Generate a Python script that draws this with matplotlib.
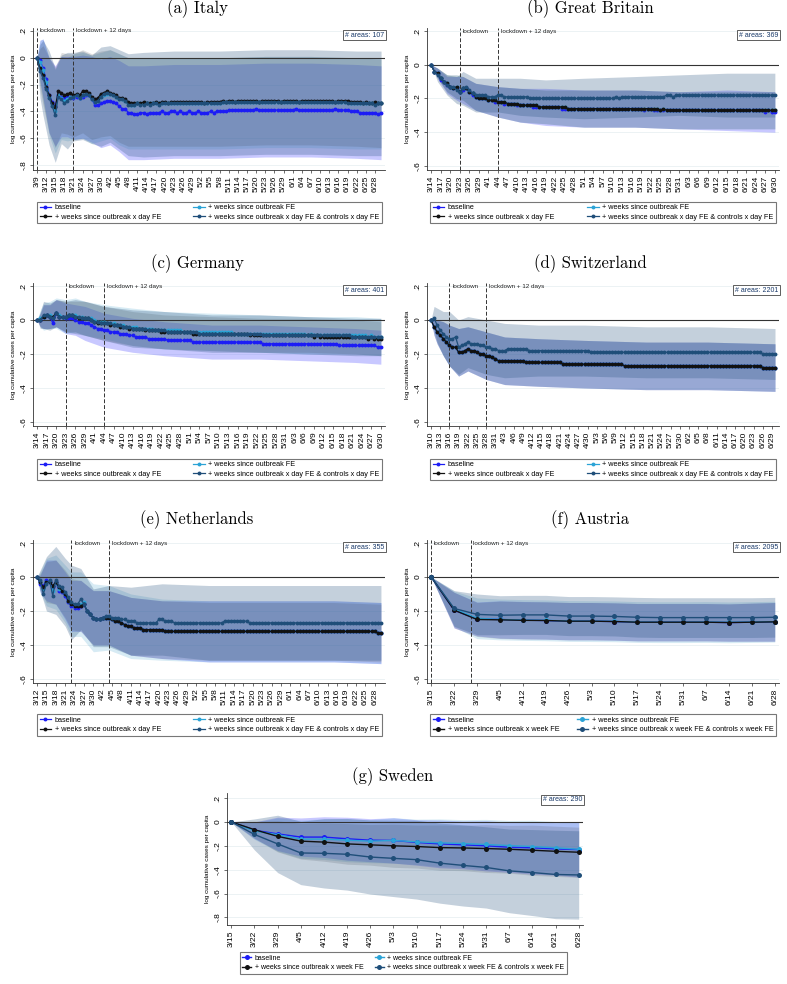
import numpy as np
import matplotlib
matplotlib.use("Agg")
import matplotlib.pyplot as plt
from matplotlib import font_manager

plt.rcParams["font.family"] = ["Liberation Sans", "DejaVu Sans"]

# ---------------------------------------------------------------- data
# daily / weekly point estimates in hundredths
# order of series everywhere: baseline, weeks FE, weeks x day FE, + controls

# (a) Italy, daily from 3/9
it_base = ("0 -2 -8 -16 -28 -33 -36 -28 -29 -30 "
           "-29 -29 -30 -29 -30 -29 -28 -28 -31 -35 "
           "-35 -34 -33 -32 -32 -33 -34 -36 -38 -38 "
           "-41 -41 -42 -42 -41 -41 -42 -41 -41 -41 "
           "-41 -40 -41 -41 -40 -40 -41 -40 -41 -41 "
           "-40 -41 -41 -40 -41 -41 -41 -40 -41 -40 "
           "-40 -40 -40 -39 -39 -39 -39 -39 -39 -39 "
           "-39 -39 -38 -39 -39 -39 -39 -39 -39 -39 "
           "-39 -39 -39 -39 -39 -38 -39 -39 -39 -39 "
           "-39 -39 -39 -39 -39 -39 -39 -39 -38 -39 "
           "-39 -39 -39 -40 -40 -40 -41 -41 -41 -41 "
           "-41 -41 -42 -41")
it_wfe = ("0 -3 -9 -18 -29 -35 -40 -28 -30 -32 "
          "-31 -29 -29 -28 -30 -28 -27 -28 -31 -33 "
          "-32 -29 -28 -27 -27 -28 -29 -31 -31 -32 "
          "-34 -35 -35 -34 -34 -34 -34 -34 -34 -34 "
          "-34 -34 -34 -34 -34 -34 -34 -34 -34 -34 "
          "-34 -34 -34 -34 -34 -34 -34 -34 -34 -34 "
          "-34 -33 -33 -33 -33 -33 -33 -33 -33 -33 "
          "-33 -33 -33 -33 -33 -33 -33 -33 -33 -33 "
          "-33 -33 -33 -33 -33 -33 -33 -33 -33 -33 "
          "-33 -33 -33 -33 -33 -33 -33 -33 -33 -33 "
          "-33 -33 -33 -34 -34 -34 -34 -34 -34 -34 "
          "-34 -34 -34 -34")
it_wxd = ("0 -8 -13 -22 -28 -34 -37 -25 -26 -28 "
          "-27 -26 -28 -27 -28 -25 -25 -26 -29 -31 "
          "-30 -27 -26 -25 -26 -27 -28 -30 -30 -31 "
          "-33 -34 -34 -34 -34 -33 -34 -34 -34 -33 "
          "-34 -33 -33 -34 -33 -33 -33 -33 -33 -33 "
          "-33 -33 -33 -33 -33 -34 -33 -33 -33 -33 "
          "-33 -32 -33 -32 -32 -33 -32 -32 -32 -32 "
          "-32 -32 -32 -33 -32 -32 -32 -32 -32 -32 "
          "-33 -32 -32 -32 -32 -32 -33 -32 -32 -32 "
          "-32 -32 -32 -32 -32 -32 -32 -32 -33 -32 "
          "-32 -32 -32 -33 -33 -33 -33 -34 -33 -34 "
          "-34 -33 -34 -34")
it_ctrl = ("0 -10 -15 -23 -30 -36 -43 -29 -31 -34 "
           "-32 -30 -29 -28 -30 -28 -27 -28 -31 -33 "
           "-32 -29 -27 -26 -27 -28 -29 -31 -31 -32 "
           "-35 -35 -35 -34 -35 -35 -34 -35 -34 -34 "
           "-35 -34 -34 -34 -34 -34 -34 -34 -34 -34 "
           "-34 -34 -34 -34 -34 -34 -34 -34 -34 -34 "
           "-34 -33 -33 -33 -33 -33 -33 -33 -33 -33 "
           "-33 -33 -33 -33 -33 -33 -33 -33 -33 -33 "
           "-33 -33 -33 -33 -33 -33 -33 -33 -33 -33 "
           "-33 -33 -33 -33 -33 -33 -33 -33 -33 -33 "
           "-33 -33 -34 -34 -34 -34 -34 -34 -34 -34 "
           "-34 -35 -34 -34")
it_days = "0 1 2 4 6 8 10 12 15 18 21 24 27 30 35 45 60 75 90 105 113"
it_hw_base = "0 15 22 28 30 30 30 31 31 32 33 33 34 35 35 35 35 35 35 35 35"
it_hw_wfe = "0 16 23 29 31 31 31 32 32 33 33 33 34 34 34 34 34 34 34 34 34"
it_hw_wxd = "0 15 22 28 30 30 30 31 31 32 32 32 33 33 33 33 33 33 33 33 33"
it_hw_ctrl = "0 20 28 35 35 33 36 33 33 33 37 36 37 38 39 39 39 39 39 39 39"

# (b) Great Britain, daily from 3/14
gb_base = ("0 -4 -5 -9 -10 -12 -13 -14 -14 -16 "
           "-15 -14 -16 -18 -19 -20 -20 -20 -21 -21 "
           "-22 -22 -22 -23 -23 -23 -23 -24 -24 -24 "
           "-24 -24 -25 -25 -25 -25 -25 -25 -25 -25 "
           "-25 -26 -26 -26 -26 -26 -26 -26 -26 -26 "
           "-26 -26 -26 -26 -26 -26 -26 -26 -26 -26 "
           "-26 -26 -26 -26 -26 -26 -26 -27 -26 -26 "
           "-27 -27 -27 -27 -27 -27 -27 -27 -27 -27 "
           "-27 -27 -27 -27 -27 -27 -27 -27 -27 -27 "
           "-27 -27 -27 -27 -27 -27 -27 -27 -27 -27 "
           "-27 -27 -27 -27 -27 -28 -27 -28 -28")
gb_wxd = ("0 -4 -5 -8 -10 -11 -13 -14 -13 -16 "
          "-14 -14 -16 -17 -19 -20 -20 -20 -21 -21 "
          "-21 -22 -22 -22 -23 -23 -23 -23 -24 -24 "
          "-24 -24 -24 -24 -25 -25 -25 -25 -25 -25 "
          "-25 -25 -25 -26 -26 -26 -26 -26 -26 -26 "
          "-26 -26 -26 -26 -26 -26 -26 -26 -26 -26 "
          "-26 -26 -26 -26 -26 -26 -26 -26 -26 -26 "
          "-26 -26 -27 -26 -27 -27 -27 -27 -27 -27 "
          "-27 -27 -27 -27 -27 -27 -27 -27 -27 -27 "
          "-27 -27 -27 -27 -27 -27 -27 -27 -27 -27 "
          "-27 -27 -27 -27 -27 -27 -27 -27 -27")
gb_wfe = gb_wxd  # drawn on top of each other in the figure
gb_ctrl = ("0 -4 -6 -8 -10 -12 -13 -13 -15 -16 "
           "-14 -13 -15 -17 -18 -18 -18 -18 -19 -19 "
           "-19 -18 -18 -19 -19 -19 -19 -19 -19 -19 "
           "-19 -20 -20 -20 -20 -20 -20 -20 -20 -20 "
           "-20 -20 -20 -20 -20 -20 -20 -20 -20 -20 "
           "-20 -20 -20 -20 -20 -20 -20 -20 -19 -20 "
           "-19 -19 -19 -19 -19 -19 -19 -19 -19 -19 "
           "-19 -19 -19 -19 -18 -18 -19 -18 -18 -18 "
           "-18 -18 -18 -18 -18 -18 -18 -18 -18 -18 "
           "-18 -18 -18 -18 -18 -18 -18 -18 -18 -18 "
           "-18 -18 -18 -18 -18 -18 -18 -18 -18")
gb_days = "0 2 5 8 10 14 21 28 36 48 64 78 93 108"
gb_hw_base = "0 3 5 7 8 8 9 10 11 11 11 11 12 12"
gb_hw_wfe = "0 3 5 7 7 8 9 10 10 11 11 11 11 11"
gb_hw_wxd = "0 3 5 7 7 8 9 10 10 11 11 11 11 11"
gb_hw_ctrl = "0 4 6 8 10 10 10 11 11 12 12 12 13 13"

# (c) Germany, daily from 3/14
de_base = ("0 0 2 3 2 -2 4 2 2 1 "
           "1 1 0 -1 -1 -2 -2 -3 -4 -5 "
           "-5 -6 -6 -7 -7 -7 -8 -8 -8 -9 "
           "-9 -10 -10 -10 -10 -11 -11 -11 -11 -11 "
           "-11 -12 -12 -12 -12 -12 -12 -12 -12 -13 "
           "-13 -13 -13 -13 -13 -13 -13 -13 -13 -13 "
           "-13 -13 -13 -13 -13 -13 -13 -13 -13 -13 "
           "-13 -14 -14 -14 -14 -14 -14 -14 -14 -14 "
           "-14 -14 -14 -14 -14 -14 -14 -14 -14 -14 "
           "-14 -14 -14 -14 -14 -15 -15 -15 -15 -15 "
           "-15 -15 -15 -15 -15 -15 -15 -16 -16")
de_wfe = ("0 1 2 3 3 2 4 3 2 2 "
          "3 3 3 2 2 1 1 1 0 -1 "
          "-1 -1 -2 -2 -2 -3 -3 -3 -4 -4 "
          "-4 -4 -5 -5 -5 -5 -5 -6 -6 -6 "
          "-6 -6 -6 -6 -6 -6 -7 -7 -7 -7 "
          "-7 -7 -7 -7 -7 -7 -7 -7 -7 -7 "
          "-7 -7 -8 -8 -8 -8 -8 -8 -8 -8 "
          "-8 -8 -8 -8 -8 -8 -8 -8 -8 -8 "
          "-8 -8 -8 -8 -8 -9 -8 -9 -9 -9 "
          "-9 -9 -9 -9 -9 -9 -9 -9 -9 -9 "
          "-9 -9 -9 -9 -10 -9 -10 -10 -10")
de_wxd = ("0 0 2 3 2 2 4 2 2 2 "
          "3 3 2 1 1 1 1 0 -1 -2 "
          "-2 -2 -2 -3 -3 -3 -4 -4 -4 -5 "
          "-5 -5 -5 -5 -6 -6 -6 -6 -6 -7 "
          "-7 -7 -7 -7 -7 -7 -7 -7 -7 -8 "
          "-8 -8 -8 -8 -8 -8 -8 -8 -8 -8 "
          "-8 -8 -8 -8 -8 -8 -8 -9 -9 -9 "
          "-9 -9 -9 -9 -9 -9 -9 -9 -9 -9 "
          "-9 -9 -9 -9 -9 -9 -9 -10 -9 -10 "
          "-10 -10 -10 -10 -10 -10 -10 -10 -10 -10 "
          "-10 -10 -10 -10 -11 -10 -11 -11 -11")
de_ctrl = ("0 0 3 3 2 1 4 2 2 2 "
           "3 3 2 2 1 1 1 0 -1 -1 "
           "-2 -2 -2 -2 -3 -3 -3 -4 -4 -4 "
           "-5 -5 -5 -5 -5 -6 -6 -6 -6 -6 "
           "-6 -7 -7 -7 -7 -7 -7 -7 -7 -7 "
           "-7 -8 -8 -8 -8 -8 -8 -8 -8 -8 "
           "-8 -8 -8 -8 -8 -8 -8 -8 -8 -8 "
           "-8 -9 -9 -9 -9 -9 -9 -9 -9 -9 "
           "-9 -9 -9 -9 -9 -9 -9 -9 -9 -9 "
           "-9 -9 -9 -9 -9 -9 -9 -9 -9 -10 "
           "-10 -10 -10 -10 -10 -10 -10 -10 -10")
de_days = "0 1 2 4 6 9 12 15 21 30 40 55 70 85 100 108"
de_hw_base = "0 4 7 7 8 9 9 10 10 10 10 10 10 10 10 10"
de_hw_wfe = "0 5 8 8 9 10 10 10 10 11 11 11 11 11 11 11"
de_hw_wxd = "0 4 7 7 8 9 9 10 10 10 10 10 10 10 10 10"
de_hw_ctrl = "0 5 8 8 8 9 10 10 10 11 11 11 11 11 11 11"

# (d) Switzerland, daily from 3/10
ch_wxd = ("0 -4 -7 -9 -11 -13 -15 -16 -16 -19 "
          "-19 -18 -17 -18 -18 -19 -20 -20 -21 -21 "
          "-22 -23 -24 -24 -24 -24 -24 -24 -24 -24 "
          "-24 -25 -25 -25 -25 -25 -25 -25 -25 -25 "
          "-25 -25 -25 -26 -26 -26 -26 -26 -26 -26 "
          "-26 -26 -26 -26 -26 -26 -26 -26 -26 -26 "
          "-26 -26 -26 -27 -27 -27 -27 -27 -27 -27 "
          "-27 -27 -27 -27 -27 -27 -27 -27 -27 -27 "
          "-27 -27 -27 -27 -27 -27 -27 -27 -27 -27 "
          "-27 -27 -27 -27 -27 -27 -27 -27 -27 -27 "
          "-27 -27 -27 -27 -27 -27 -27 -27 -28 -28 "
          "-28 -28 -28")
ch_base = ch_wxd  # hidden under the black series
ch_wfe = ch_wxd
ch_ctrl = ("0 1 -3 -6 -8 -10 -11 -11 -10 -16 "
           "-15 -14 -13 -14 -14 -14 -15 -15 -16 -16 "
           "-17 -17 -18 -18 -18 -17 -17 -17 -17 -17 "
           "-17 -17 -18 -18 -18 -18 -18 -18 -18 -18 "
           "-18 -18 -18 -18 -18 -18 -18 -18 -18 -18 "
           "-18 -18 -19 -19 -19 -19 -19 -19 -19 -19 "
           "-19 -19 -19 -19 -19 -19 -19 -19 -19 -19 "
           "-19 -19 -19 -19 -19 -19 -19 -19 -19 -19 "
           "-19 -19 -19 -19 -19 -19 -19 -19 -19 -19 "
           "-19 -19 -19 -19 -19 -19 -19 -19 -19 -19 "
           "-19 -19 -19 -19 -19 -19 -19 -19 -20 -20 "
           "-20 -20 -20")
ch_days = "0 1 2 4 6 9 12 18 24 35 50 70 90 112"
ch_hw_base = "0 5 7 10 12 14 13 14 14 14 14 14 14 14"
ch_hw_wfe = "0 5 7 10 12 14 13 14 14 14 14 14 14 14"
ch_hw_wxd = "0 5 7 10 12 14 13 14 14 14 14 14 14 14"
ch_hw_ctrl = "0 7 10 13 16 16 15 16 16 15 15 15 15 15"

# (e) Netherlands, daily from 3/12 (the three first series share the tail)
nl_tail = ("-25 -24 -24 -24 -25 -26 -26 -27 -28 -29 "
           "-29 -30 -30 -30 -31 -31 -31 -31 -31 -31 "
           "-31 -32 -32 -32 -32 -32 -32 -32 -32 -32 "
           "-32 -32 -32 -32 -32 -32 -32 -32 -32 -32 "
           "-32 -32 -32 -32 -32 -32 -32 -32 -32 -32 "
           "-32 -32 -32 -32 -32 -32 -32 -32 -32 -32 "
           "-32 -32 -32 -32 -32 -32 -32 -32 -32 -32 "
           "-32 -32 -32 -32 -32 -32 -32 -32 -32 -32 "
           "-32 -32 -32 -32 -32 -32 -32 -32 -32 -33 "
           "-33")
nl_base = ("0 -4 -5 -2 -3 -6 -3 -8 -9 -11 "
           "-15 -17 -18 -18 -17 -16 -20 -22 -24 -25 ") + nl_tail
nl_wfe = ("0 -3 -7 -3 -3 -8 -3 -7 -8 -10 "
          "-14 -16 -17 -16 -16 -15 -20 -22 -24 -25 ") + nl_tail
nl_wxd = ("0 -3 -6 -3 -3 -5 -3 -6 -8 -10 "
          "-14 -16 -17 -17 -17 -16 -20 -22 -24 -25 ") + nl_tail
nl_ctrl = ("0 -2 -10 -4 -2 -11 -2 -5 -6 -9 "
           "-12 -15 -16 -16 -13 -16 -20 -22 -24 -25 "
           "-25 -24 -23 -23 -24 -24 -24 -25 -25 -26 "
           "-26 -26 -27 -27 -27 -27 -27 -27 -27 -25 "
           "-25 -26 -26 -26 -27 -27 -27 -27 -27 -27 "
           "-27 -27 -27 -27 -27 -27 -27 -27 -27 -27 "
           "-26 -26 -26 -26 -26 -26 -26 -26 -27 -27 "
           "-27 -27 -27 -27 -27 -27 -27 -27 -27 -27 "
           "-27 -27 -27 -27 -27 -27 -27 -27 -27 -27 "
           "-27 -27 -27 -27 -27 -27 -27 -27 -27 -27 "
           "-27 -27 -27 -27 -27 -27 -27 -27 -27 -27 "
           "-27")
nl_days = "0 1 3 6 9 11 14 18 23 30 40 55 75 95 110"
nl_hw_base = "0 5 12 13 14 15 15 16 16 17 17 18 18 18 18"
nl_hw_wfe = "0 6 14 16 17 19 19 20 19 19 18 18 18 18 18"
nl_hw_wxd = "0 5 12 13 14 15 15 16 16 17 17 17 17 17 17"
nl_hw_ctrl = "0 6 16 20 20 22 18 17 18 20 21 22 22 22 22"

# (f) Austria, weekly from 3/15
at_base = "0 -19.5 -24.7 -25 -25.4 -25.6 -26 -26 -26.2 -26.6 -26.6 -26.6 -26.6 -26.8 -26.6 -26.4"
at_wfe = "0 -18.8 -24.3 -25 -25.3 -25.5 -25.9 -26 -26.1 -26.5 -26.6 -26.6 -26.5 -26.7 -26.5 -26.3"
at_wxd = "0 -19.5 -25 -25.2 -25.5 -25.6 -26 -26 -26.2 -26.6 -26.6 -26.6 -26.6 -26.8 -26.6 -26.4"
at_ctrl = "0 -18.5 -22 -22.5 -22.3 -22.3 -23 -23 -23.2 -23.7 -23.9 -23.9 -23.9 -23.9 -23.9 -23.7"
at_hw_base = "0 10.5 10 11 11 11 11 11 11 11 11 11 11 11 11.2 11.4"
at_hw_wfe = "0 10.5 12 12 12 12 12 12 12 12 12 12 12 12 12 12"
at_hw_wxd = "0 10.5 10 11 11 11 11 11 11 11 11 11 11 11 11.2 11.4"
at_hw_ctrl = "0 10.5 12 11.5 11.5 11.5 11.5 11.5 11.5 11.7 11.7 11.7 11.7 11.7 11.7 11.7"

# (g) Sweden, weekly from 3/15
se_base = "0 -7 -10 -12.7 -12.7 -14.1 -15.3 -15.5 -17.2 -18.4 -19.2 -20 -21.2 -21.7 -22.6 -23.2"
se_wfe = "0 -7.6 -10.7 -14.4 -14.4 -15.3 -16.1 -15.5 -16.7 -17.5 -18.1 -18.9 -19.8 -20.6 -21.7 -22.9"
se_wxd = "0 -6.5 -12.1 -16.1 -16.9 -18.4 -19.2 -20 -20.6 -21.5 -21.8 -22.3 -22.9 -23.7 -24.6 -25.4"
se_ctrl = "0 -10.5 -18.4 -26 -26.3 -27.1 -29.4 -30.5 -31.6 -34.5 -36.4 -38.1 -41 -42.4 -44 -44.4"
se_hw_base = "0 7 14 16 17 18 18 19 19 20 20 21 21 22 22 23"
se_hw_wfe = "0 7 14 16 17 18 18 19 19 20 20 21 21 22 22 23"
se_hw_wxd = "0 7 13 15 16 17 17 18 18 19 19 20 20 21 21 21"
se_hw_ctrl = "0 13 24 26.5 29 30 31 32 33 33.5 34 34 35 36 37 37"

areas = {"it": 107, "gb": 369, "de": 401, "ch": 2201, "nl": 355, "at": 2095, "se": 290}

labels_day = ["baseline", "+ weeks since outbreak FE",
              "+ weeks since outbreak x day FE",
              "+ weeks since outbreak x day FE & controls x day FE"]
labels_week = ["baseline", "+ weeks since outbreak FE",
               "+ weeks since outbreak x week FE",
               "+ weeks since outbreak x week FE & controls x week FE"]

# ---------------------------------------------------------------- style
line_col = ["#1c1cf5", "#2ba3d6", "#111111", "#1f4e79"]
band_col = ["#4b4bff", "#3a9cc9", "#3c3c3c", "#26527e"]
band_alpha = [0.30, 0.20, 0.17, 0.27]

installed = {f.name for f in font_manager.fontManager.ttflist}
narrow = ["Liberation Sans Narrow"] if "Liberation Sans Narrow" in installed else []

W, H = 787, 984
JAN1 = np.datetime64("2020-01-01")


def vals(s):
    return np.array(s.split(), dtype=float) / 100


def doy(d):
    return int((np.datetime64(d) - JAN1).astype(int))


def frac(x0, y0, x1, y1):
    return [x0 / W, 1 - y1 / H, (x1 - x0) / W, (y1 - y0) / H]


def draw(ax, start, series, band_days, hws, ylim, yticks, n_areas,
         lock=None, weekly=False):
    gap = 7 if weekly else 1
    ys = [vals(s) for s in series]
    x0 = doy(start)
    xs = [x0 + gap * np.arange(len(y)) for y in ys]
    if band_days is None:
        idx = np.arange(len(ys[0]))
    else:
        idx = np.array(band_days.split(), dtype=int)

    for k in range(4):
        hw = vals(hws[k])
        m = ys[k][idx]
        ax.fill_between(xs[k][idx], m - hw, m + hw, color=band_col[k],
                        alpha=band_alpha[k], lw=0, zorder=1)

    handles = []
    ms = 3.6 if weekly else 2.8
    lw = 1.0 if weekly else 0.9
    for k in range(4):
        h, = ax.plot(xs[k], ys[k], color=line_col[k], lw=lw, marker="o",
                     ms=ms, mew=0, zorder=3 + k)
        handles.append(h)

    ax.axhline(0, color="#333333", lw=0.8, zorder=2)
    for yt in yticks:
        ax.axhline(yt, color="#e4edf0", lw=0.5, zorder=0)

    last = xs[0][-1]
    pad = 1.3
    ax.set_xlim(x0 - pad, last + pad)
    ax.set_ylim(ylim[1], ylim[0])

    step = 7 if weekly else 3
    ticks = np.arange(x0, last + 0.5, step)
    tick_dates = [(JAN1 + np.timedelta64(int(t), "D")).astype(object) for t in ticks]
    ax.set_xticks(ticks)
    ax.set_xticklabels([f"{d.month}/{d.day}" for d in tick_dates],
                       rotation=90, fontsize=6)
    ax.set_yticks(yticks)
    ax.set_yticklabels([("%g" % t).replace("0.", ".") for t in yticks],
                       rotation=90, va="center", fontsize=6)
    ax.tick_params(length=2.5, width=0.5, color="#333333", pad=1.5)
    ax.set_ylabel("log cumulative cases per capita", fontsize=4.6, labelpad=3)

    for s in ["top", "right"]:
        ax.spines[s].set_visible(False)
    for s in ["left", "bottom"]:
        ax.spines[s].set_color("#333333")
        ax.spines[s].set_linewidth(0.6)

    if lock is not None:
        for d, txt in zip(lock, ["lockdown", "lockdown + 12 days"]):
            xl = doy(d)
            ax.axvline(xl, color="#333333", lw=0.7, ls=(0, (4, 2)), zorder=2)
            ax.annotate(txt, (xl, yticks[0]), xytext=(2, 0),
                        textcoords="offset points", fontsize=4.5,
                        va="center", ha="left", color="#222222")

    ax.text(0.997, 0.975, f"# areas: {n_areas}", transform=ax.transAxes,
            ha="right", va="top", fontsize=5, color="#1a3a6a", zorder=10,
            bbox=dict(boxstyle="square,pad=0.25", fc="white", ec="#444444", lw=0.6))
    return handles


fig = plt.figure(figsize=(W / 100, H / 100), dpi=100)

yt6 = [0.2, 0, -0.2, -0.4, -0.6]
yt8 = [0.2, 0, -0.2, -0.4, -0.6, -0.8]
L, R = (33, 385), (427, 779)
LL, RL = (37, 382), (430, 776)
rows = [(28, 170, 200, 225, 9), (283, 426, 457, 482, 264), (540, 683, 713, 737, 520)]

specs = [
    ("(a) Italy", L, LL, 197, rows[0], "2020-03-09",
     [it_base, it_wfe, it_wxd, it_ctrl], it_days,
     [it_hw_base, it_hw_wfe, it_hw_wxd, it_hw_ctrl], (0.222, -0.837), yt8,
     areas["it"], ("2020-03-09", "2020-03-21"), False),
    ("(b) Great Britain", R, RL, 590, rows[0], "2020-03-14",
     [gb_base, gb_wfe, gb_wxd, gb_ctrl], gb_days,
     [gb_hw_base, gb_hw_wfe, gb_hw_wxd, gb_hw_ctrl], (0.218, -0.624), yt6,
     areas["gb"], ("2020-03-23", "2020-04-04"), False),
    ("(c) Germany", L, LL, 197, rows[1], "2020-03-14",
     [de_base, de_wfe, de_wxd, de_ctrl], de_days,
     [de_hw_base, de_hw_wfe, de_hw_wxd, de_hw_ctrl], (0.218, -0.624), yt6,
     areas["de"], ("2020-03-23", "2020-04-04"), False),
    ("(d) Switzerland", R, RL, 590, rows[1], "2020-03-10",
     [ch_base, ch_wfe, ch_wxd, ch_ctrl], ch_days,
     [ch_hw_base, ch_hw_wfe, ch_hw_wxd, ch_hw_ctrl], (0.218, -0.624), yt6,
     areas["ch"], ("2020-03-16", "2020-03-28"), False),
    ("(e) Netherlands", L, LL, 197, rows[2], "2020-03-12",
     [nl_base, nl_wfe, nl_wxd, nl_ctrl], nl_days,
     [nl_hw_base, nl_hw_wfe, nl_hw_wxd, nl_hw_ctrl], (0.218, -0.624), yt6,
     areas["nl"], ("2020-03-23", "2020-04-04"), False),
    ("(f) Austria", R, RL, 590, rows[2], "2020-03-15",
     [at_base, at_wfe, at_wxd, at_ctrl], None,
     [at_hw_base, at_hw_wfe, at_hw_wxd, at_hw_ctrl], (0.218, -0.624), yt6,
     areas["at"], ("2020-03-15", "2020-03-27"), True),
    ("(g) Sweden", (227, 583), (240, 567), 393, (793, 925, 952, 974, 777), "2020-03-15",
     [se_base, se_wfe, se_wxd, se_ctrl], None,
     [se_hw_base, se_hw_wfe, se_hw_wxd, se_hw_ctrl], (0.242, -0.863), yt8,
     areas["se"], None, True),
]

for (title, (ax0, ax1), (lg0, lg1), tx, (yt, yb, lt, lb, ty), start, ser,
     bdays, hws, ylim, yticks, n_areas, lock, weekly) in specs:
    ax = fig.add_axes(frac(ax0, yt, ax1, yb))
    hs = draw(ax, start, ser, bdays, hws, ylim, yticks, n_areas, lock, weekly)
    labs = labels_week if weekly else labels_day
    order = [0, 2, 1, 3]
    small = title.startswith("(g)")
    prop = {"size": 5.0 if small else 5.2}
    if small and narrow:
        prop = {"size": 5.2, "family": narrow + ["Liberation Sans"]}
    leg = ax.legend([hs[i] for i in order], [labs[i] for i in order], ncol=2,
                    loc="center", mode="expand",
                    bbox_to_anchor=(lg0 / W, 1 - lb / H, (lg1 - lg0) / W, (lb - lt) / H),
                    bbox_transform=fig.transFigure, prop=prop, frameon=True,
                    fancybox=False, borderpad=0.35, labelspacing=0.35,
                    handlelength=1.6 if not small else 1.3, handletextpad=0.5,
                    columnspacing=0.6, borderaxespad=0)
    leg.get_frame().set_edgecolor("#555555")
    leg.get_frame().set_linewidth(0.8)
    fig.text(tx / W, 1 - ty / H, title, ha="center", va="center",
             fontsize=12, family="cmr10")

fig.savefig("out.png", dpi=100)
